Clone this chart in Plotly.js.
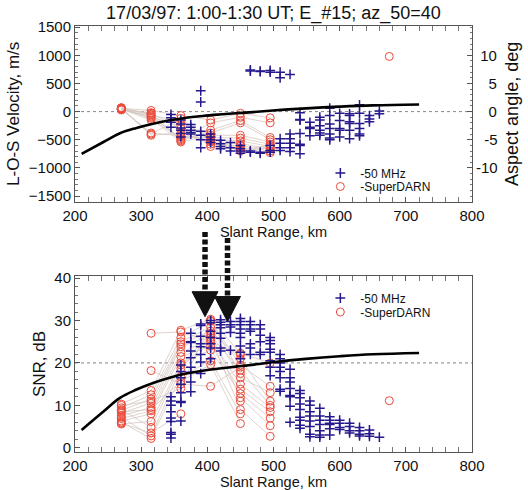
<!DOCTYPE html>
<html>
<head>
<meta charset="utf-8">
<script src="https://cdn.plot.ly/plotly-3.0.1.min.js"></script>
<style>html,body{margin:0;padding:0;background:#fff;}#plot{width:528px;height:490px;}</style>
</head>
<body>
<div id="plot"></div>
<script>
// ---------------- DATA ----------------
// 50 MHz radar: range gates (km) and values per gate
const vhfRanges = [345,360,375,390,405,420,435,450,465,480,495,510,525,540,555,570,585,600,615,630,645,660];
const vhfVelocity = [
  [-50,-110,-190,-280],
  [-150,-220,-290,-330,-390,-450],
  [-230,-280,-330,-370,-400],
  [370,170,-350,-420,-500,-640],
  [-400,-450,-500,-550],
  [-510,-570,-620,-660],
  [-550,-640,-700],
  [-600,-660,-700,-740],
  [720,740,-700,-720],
  [710,720,-720,-740],
  [700,730,-600,-690,-720],
  [700,600,-480,-560,-640,-690],
  [660,-400,-480,-560,-640,-710],
  [-20,-140,-150,-390,-580,-600,-750],
  [-190,-280,-300,-430],
  [-100,-150,-250,-330,-380,-420],
  [60,-70,-220,-300,-400,-470,-500],
  [-30,-160,-300,-330,-450],
  [-40,-70,-180,-210,-330,-480],
  [120,-30,-210,-300,-400,-430],
  [-70,-130,-180],
  [10,-40]
];
const vhfSnr = [
  [12,11,10,8.5,7,6.2,3.6,3.2,2.3],
  [19.5,18,16.5,15,13,10.9,10.7,6.3],
  [27,25,24.8,22.8,21.2,19,17.8,15.5,13.2],
  [29.2,28.8,26.3,24.5,23.8,22,20.2,17.5],
  [30,29.5,27.5,26,24.5,23.5,21],
  [30.2,29.6,29,28.3,27,25.8,23.5,22.8],
  [29.8,29,28.5,27.2,23],
  [30.5,29.8,29,28,27,26,24,22.5,21],
  [29.8,29,28,27.5,24.5,23.5,22],
  [29,28,26.5,25,22.5,22],
  [26,25.3,24.5,23.2,22.5,20.5,19,17],
  [22,21,20,19,18,16.5,13.8,13.3],
  [18.5,16.5,15.5,14,12.3,12,9.8,6],
  [13.5,12.8,11.8,10.3,9,7.2,6.5,5.3,4.6],
  [11,10,8.5,7.5,6.3,5,3.2,2.6],
  [9.3,7.5,6.5,5.5,4,3,2.5],
  [7.3,6.5,5.8,5.5,4.5,3],
  [6.5,5.8,4.8,4.3],
  [5.8,5,4,3.5],
  [4.8,4,3.2,2.8],
  [4.2,3.3,2.7],
  [2.5]
];

// SuperDARN: gates (km); each row is one sample followed across the gates
const sdRanges = [270,315,360,405,450,495];
const sdVelocity = [
  [60,20,-70,-150,-30,-110],
  [40,-20,-500,-200,-100,-200],
  [70,-50,-520,-330,-160,-460],
  [30,-80,-480,-380,-200,-500],
  [50,-120,-540,-420,-420,-540],
  [45,-150,-450,-460,-470,-580],
  [55,-380,-430,-500,-520,-620],
  [65,-420,-380,-540,-570,-660],
  [35,-30,-300,-580,-610,-700],
  [50,-100,-250,-620,-650,-730],
  [60,-60,-180,-470,-680,-600],
  [40,-400,-120,-520,-700,-640]
];
const sdSnr = [
  [10.3,13.5,27.7,30.3,22.3,20.0],
  [9.4,12.5,26.0,29.8,19.5,14.5],
  [8.8,11.5,25.0,28.5,16.5,13.0],
  [8.2,10.5,24.5,27.5,21.0,11.0],
  [7.5,9.5,23.8,26.5,18.3,10.0],
  [6.9,8.7,22.5,25.5,15.0,9.5],
  [6.3,8.0,21.5,24.0,13.8,8.5],
  [5.6,6.2,20.0,23.0,12.8,7.0],
  [9.0,4.8,19.5,27.0,11.8,5.2],
  [7.2,2.8,18.7,26.0,9.0,2.7],
  [6.0,2.2,16.8,20.5,8.0,null],
  [8.5,9.0,15.7,19.6,5.7,null],
  [null,27.0,27.3,25.0,22.0,null],
  [null,18.2,15.0,14.5,19.0,null],
  [10.0,11.0,14.0,30.0,17.5,null],
  [5.8,3.5,8.0,null,11.0,null]
];
const sdOutlierRange = [675];
const sdOutlierVelocity = [980];
const sdOutlierSnr = [11.1];

// aspect angle (deg) vs slant range (km)
const aspectRange = [210,243,268,293,318,343,368,393,418,443,463,499,549,600,650,720];
const aspectAngle = [-7.5,-5.4,-3.85,-2.9,-2.15,-1.55,-1.08,-0.77,-0.52,-0.3,-0.14,0.2,0.58,0.88,1.1,1.25];

const titleText = '17/03/97: 1:00-1:30 UT; E_#15; az_50=40';

// ---------------- HELPERS ----------------
function flattenCols(ranges, cols){
  const x=[],y=[];
  cols.forEach((c,i)=>c.forEach(v=>{x.push(ranges[i]);y.push(v);}));
  return {x,y};
}
function seriesLines(ranges, series){
  const x=[],y=[];
  series.forEach(s=>{ s.forEach((v,i)=>{x.push(v===null?null:ranges[i]); y.push(v);}); x.push(null); y.push(null); });
  return {x,y};
}
function seriesPoints(ranges, series, ox, oy){
  const x=[],y=[];
  series.forEach(s=>s.forEach((v,i)=>{ if(v!==null){x.push(ranges[i]);y.push(v);} }));
  ox.forEach((v,i)=>{x.push(v);y.push(oy[i]);});
  return {x,y};
}

const FONT = 'Liberation Sans, Arial, Helvetica, sans-serif';
const BLUE = '#25198c';
const RED = '#ec4a3a';
const GREYLINE = '#d6c8c2';
const M = {l:75, r:56, t:26, b:38};
const W = 528, H = 490;
const plotH = H - M.t - M.b;
const py = px => (H - M.b - px) / plotH;   // pixel row -> paper y

const topVhf = flattenCols(vhfRanges, vhfVelocity);
const botVhf = flattenCols(vhfRanges, vhfSnr);
const topLines = seriesLines(sdRanges, sdVelocity);
const botLines = seriesLines(sdRanges, sdSnr);
const topSd = seriesPoints(sdRanges, sdVelocity, sdOutlierRange, sdOutlierVelocity);
const botSd = seriesPoints(sdRanges, sdSnr, sdOutlierRange, sdOutlierSnr);

const crossMarker = {symbol:'cross-thin-open', size:7, color:BLUE, line:{color:BLUE, width:1.5}};
const circleMarker = {symbol:'circle-open', size:8, color:RED, line:{color:RED, width:1}};

const traces = [
  // top panel
  {x:topLines.x, y:topLines.y, xaxis:'x', yaxis:'y', mode:'lines', line:{color:GREYLINE, width:0.8}, connectgaps:false, showlegend:false, hoverinfo:'skip'},
  {x:topSd.x, y:topSd.y, xaxis:'x', yaxis:'y', mode:'markers', marker:circleMarker, name:'-SuperDARN', legend:'legend2', showlegend:true},
  {x:topVhf.x, y:topVhf.y, xaxis:'x', yaxis:'y', mode:'markers', marker:crossMarker, name:'-50 MHz', legend:'legend', showlegend:true},
  {x:aspectRange, y:aspectAngle, xaxis:'x', yaxis:'y2', mode:'lines', line:{color:'#000', width:2.6, shape:'spline', smoothing:1.1}, showlegend:false},
  // bottom panel
  {x:botLines.x, y:botLines.y, xaxis:'x2', yaxis:'y3', mode:'lines', line:{color:GREYLINE, width:0.8}, connectgaps:false, showlegend:false, hoverinfo:'skip'},
  {x:botSd.x, y:botSd.y, xaxis:'x2', yaxis:'y3', mode:'markers', marker:circleMarker, name:'-SuperDARN', legend:'legend4', showlegend:true},
  {x:botVhf.x, y:botVhf.y, xaxis:'x2', yaxis:'y3', mode:'markers', marker:crossMarker, name:'-50 MHz', legend:'legend3', showlegend:true},
  {x:aspectRange, y:aspectAngle, xaxis:'x2', yaxis:'y5', mode:'lines', line:{color:'#000', width:2.6, shape:'spline', smoothing:1.1}, showlegend:false}
];

const tickFont = {family:FONT, size:15, color:'#111'};
const AXC = '#555';
function xAxis(anchor){
  return {anchor:anchor, domain:[0,1], range:[200,800], tickmode:'linear', tick0:200, dtick:100,
    ticks:'inside', ticklen:5, tickcolor:AXC, showline:true, linecolor:AXC, linewidth:1, mirror:'allticks',
    minor:{ticks:'inside', ticklen:2.5, dtick:20, tick0:200, tickcolor:'#777'},
    showgrid:false, zeroline:false, tickfont:tickFont,
    title:{text:'Slant Range, km', font:{family:FONT, size:14.5, color:'#111'}, standoff:4}};
}
function yLeft(domain, range, dtick, minorDtick, title){
  return {domain:domain, anchor:domain[0]===0?'x2':'x', range:range, tickmode:'linear', tick0:0, dtick:dtick,
    ticks:'inside', ticklen:5, tickcolor:AXC, showline:true, linecolor:AXC, linewidth:1, mirror:true,
    minor:{ticks:'inside', ticklen:2.5, dtick:minorDtick, tick0:0, tickcolor:'#777'},
    showgrid:false, zeroline:false, tickfont:tickFont,
    title:{text:title, font:{family:FONT, size:17, color:'#111'}, standoff:4}};
}
const rightTickVals = [-10,-5,0,5,10];
const rightTickText = ['-10','\u2007-5','\u2007\u20080','\u2007\u20085','\u200810'];
function yRight(overlay, anchor, range){
  return {overlaying:overlay, anchor:anchor, side:'right', range:range, tickmode:'array',
    tickvals:rightTickVals, ticktext:rightTickText,
    ticks:'inside', ticklen:5, tickcolor:AXC, showline:true, linecolor:AXC, linewidth:1,
    minor:{ticks:'inside', ticklen:2.5, tickmode:'linear', dtick:1, tick0:0, tickcolor:'#777'},
    showgrid:false, zeroline:false, tickfont:tickFont,
    title:{text:'Aspect angle, deg', font:{family:FONT, size:18, color:'#111'}, standoff:8}};
}

const topDomain = [py(201.7), 1];
const botDomain = [0, py(276)];

function legendAt(yPx){
  return {x:0.618, xanchor:'left', y:py(yPx), yanchor:'middle', bgcolor:'rgba(0,0,0,0)',
    font:{family:FONT, size:12, color:'#111'}, itemwidth:30, borderwidth:0};
}

// arrows (bottom panel annotations): x in km, y in pixel rows converted to paper
function arrowShapes(xKm, topPx, headTopPx, tipPx){
  const halfKm = 13/0.664;
  return [
    {type:'line', xref:'x2', yref:'paper', x0:xKm, x1:xKm, y0:py(topPx), y1:py(headTopPx+1),
     line:{color:'#111', width:5.5, dash:'5px,2.5px'}, layer:'above'},
    {type:'path', xref:'x2', yref:'paper', layer:'above', fillcolor:'#111', line:{color:'#111', width:1},
     path:`M ${xKm-halfKm},${py(headTopPx)} L ${xKm+halfKm},${py(headTopPx)} L ${xKm},${py(tipPx)} Z`}
  ];
}

const layout = {
  width:W, height:H, margin:{l:M.l, r:M.r, t:M.t, b:M.b, pad:0},
  paper_bgcolor:'#fff', plot_bgcolor:'#fff',
  font:{family:FONT, color:'#111'},
  title:{text:titleText, font:{family:FONT, size:18, color:'#111'}, x:0.5, xref:'paper', xanchor:'center',
         y:1-13/H, yref:'container', yanchor:'middle'},
  xaxis:xAxis('y'),
  xaxis2:xAxis('y3'),
  yaxis:yLeft(topDomain, [-1600,1520], 500, 100, 'L-O-S Velocity, m/s'),
  yaxis2:yRight('y','x',[-16,15.2]),
  yaxis3:yLeft(botDomain, [-1,40.5], 10, 2, 'SNR, dB'),
  yaxis4:yRight('y3','x2',[-16,16]),
  yaxis5:{overlaying:'y3', anchor:'x2', side:'right', range:[-10,10], visible:false, showgrid:false, zeroline:false},
  legend:legendAt(173),
  legend2:legendAt(186.5),
  legend3:legendAt(298),
  legend4:legendAt(312),
  shapes:[
    {type:'line', xref:'x', yref:'y', x0:200, x1:800, y0:0, y1:0, line:{color:'#888', width:1, dash:'dot'}, layer:'below'},
    {type:'line', xref:'x2', yref:'y3', x0:200, x1:800, y0:20, y1:20, line:{color:'#999', width:1.2, dash:'dot'}, layer:'below'},
    ...arrowShapes(396.5, 232, 291.7, 316.7),
    ...arrowShapes(430.5, 238, 296.5, 321.7)
  ],
  hovermode:false
};

Plotly.newPlot('plot', traces, layout, {staticPlot:true, displayModeBar:false});
</script>
</body>
</html>
